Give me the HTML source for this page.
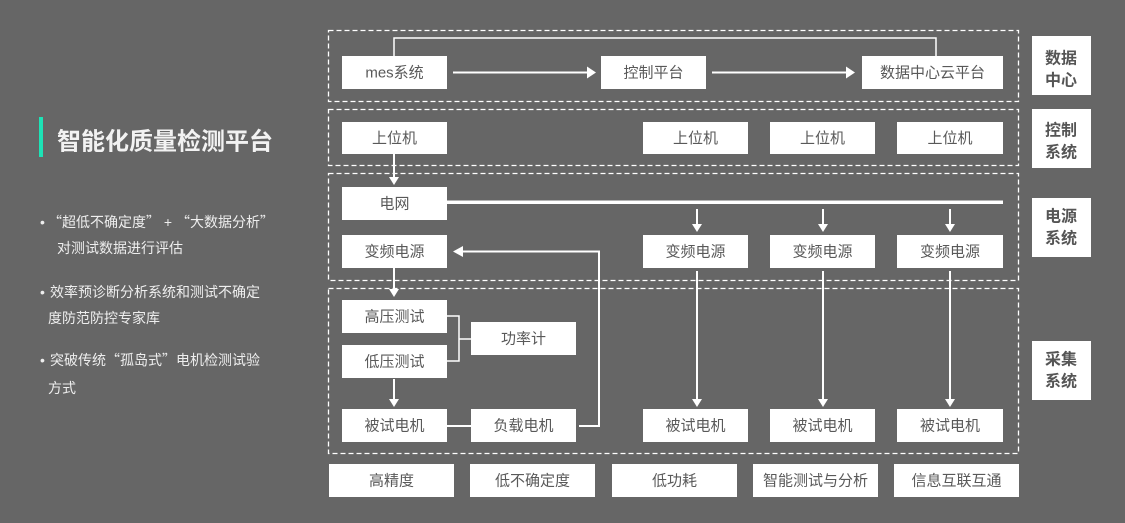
<!DOCTYPE html>
<html>
<head>
<meta charset="utf-8">
<style>
  html,body{margin:0;padding:0;background:#666666;}
  body{width:1125px;height:523px;overflow:hidden;}
  svg{display:block;}
  .t{font-family:"Liberation Sans","Noto Sans CJK SC",sans-serif;}
  .q{font-family:"Noto Sans CJK SC",sans-serif;}
</style>
</head>
<body>
<svg width="1125" height="523" viewBox="0 0 1125 523" xmlns="http://www.w3.org/2000/svg">
  <rect x="0" y="0" width="1125" height="523" fill="#666666"/>

  <!-- Left panel -->
  <rect x="39" y="117" width="4" height="40" fill="#1de3b6"/>
  <text class="t" x="57" y="142" font-size="24" font-weight="bold" fill="#f2f2f2" dominant-baseline="central">智能化质量检测平台</text>

  <g class="t" font-size="14" fill="#eeeeee">
    <text x="40" y="222" dominant-baseline="central">•</text>
    <text x="48" y="222" dominant-baseline="central"><tspan class="q">“</tspan>超低不确定度<tspan class="q">”</tspan> + <tspan class="q">“</tspan>大数据分析<tspan class="q">”</tspan></text>
    <text x="57" y="248" dominant-baseline="central">对测试数据进行评估</text>
    <text x="40" y="292" dominant-baseline="central">•</text>
    <text x="50" y="292" dominant-baseline="central">效率预诊断分析系统和测试不确定</text>
    <text x="48" y="318" dominant-baseline="central">度防范防控专家库</text>
    <text x="40" y="360" dominant-baseline="central">•</text>
    <text x="50" y="360" dominant-baseline="central">突破传统<tspan class="q">“</tspan>孤岛式<tspan class="q">”</tspan>电机检测试验</text>
    <text x="48" y="388" dominant-baseline="central">方式</text>
  </g>

  <!-- Dashed group boxes -->
  <g fill="none" stroke="#ffffff" stroke-width="1.3" stroke-dasharray="5 3">
    <rect x="328.5" y="30.5" width="690" height="71"/>
    <rect x="328.5" y="109.5" width="690" height="56"/>
    <rect x="328.5" y="173.5" width="690" height="107"/>
    <rect x="328.5" y="288.5" width="690" height="165"/>
  </g>

  <!-- Connectors -->
  <g stroke="#ffffff" fill="none">
    <polyline points="394,56 394,38 936,38 936,56" stroke-width="1.5"/>
    <line x1="453" y1="72.5" x2="589" y2="72.5" stroke-width="2"/>
    <line x1="712" y1="72.5" x2="848" y2="72.5" stroke-width="2"/>
    <line x1="394" y1="154" x2="394" y2="178" stroke-width="2"/>
    <line x1="394" y1="268" x2="394" y2="290" stroke-width="2"/>
    <line x1="394" y1="379" x2="394" y2="400" stroke-width="2"/>
    <line x1="697" y1="209" x2="697" y2="225" stroke-width="2"/>
    <line x1="823" y1="209" x2="823" y2="225" stroke-width="2"/>
    <line x1="950" y1="209" x2="950" y2="225" stroke-width="2"/>
    <line x1="697" y1="271" x2="697" y2="400" stroke-width="2"/>
    <line x1="823" y1="271" x2="823" y2="400" stroke-width="2"/>
    <line x1="950" y1="271" x2="950" y2="400" stroke-width="2"/>
    <polyline points="579,426 599,426 599,251.5 461,251.5" stroke-width="2"/>
    <polyline points="447,316 459,316 459,361 447,361" stroke-width="1.5"/>
    <line x1="459" y1="339" x2="471" y2="339" stroke-width="1.5"/>
    <line x1="447" y1="426" x2="471" y2="426" stroke-width="2"/>
  </g>
  <rect x="447" y="200.5" width="556" height="3.5" fill="#ffffff"/>

  <!-- Arrowheads -->
  <g fill="#ffffff">
    <polygon points="587,66.5 596,72.5 587,78.5"/>
    <polygon points="846,66.5 855,72.5 846,78.5"/>
    <polygon points="389,177 399,177 394,185"/>
    <polygon points="389,289 399,289 394,297"/>
    <polygon points="389,399 399,399 394,407"/>
    <polygon points="692,224 702,224 697,232"/>
    <polygon points="818,224 828,224 823,232"/>
    <polygon points="945,224 955,224 950,232"/>
    <polygon points="692,399 702,399 697,407"/>
    <polygon points="818,399 828,399 823,407"/>
    <polygon points="945,399 955,399 950,407"/>
    <polygon points="463,246 453,251.5 463,257"/>
  </g>

  <!-- Node boxes -->
  <g fill="#ffffff">
    <rect x="342" y="56" width="105" height="33"/>
    <rect x="601" y="56" width="105" height="33"/>
    <rect x="862" y="56" width="141" height="33"/>

    <rect x="342" y="122" width="105" height="32"/>
    <rect x="643" y="122" width="105" height="32"/>
    <rect x="770" y="122" width="105" height="32"/>
    <rect x="897" y="122" width="106" height="32"/>

    <rect x="342" y="187" width="105" height="33"/>
    <rect x="342" y="235" width="105" height="33"/>
    <rect x="643" y="235" width="105" height="33"/>
    <rect x="770" y="235" width="105" height="33"/>
    <rect x="897" y="235" width="106" height="33"/>

    <rect x="342" y="300" width="105" height="33"/>
    <rect x="342" y="345" width="105" height="33"/>
    <rect x="471" y="322" width="105" height="33"/>

    <rect x="342" y="409" width="105" height="33"/>
    <rect x="471" y="409" width="105" height="33"/>
    <rect x="643" y="409" width="105" height="33"/>
    <rect x="770" y="409" width="105" height="33"/>
    <rect x="897" y="409" width="106" height="33"/>

    <rect x="329" y="464" width="125" height="33"/>
    <rect x="470" y="464" width="125" height="33"/>
    <rect x="612" y="464" width="125" height="33"/>
    <rect x="753" y="464" width="125" height="33"/>
    <rect x="894" y="464" width="125" height="33"/>

    <rect x="1032" y="36" width="59" height="59"/>
    <rect x="1032" y="109" width="59" height="59"/>
    <rect x="1032" y="198" width="59" height="59"/>
    <rect x="1032" y="341" width="59" height="59"/>
  </g>

  <!-- Node labels -->
  <g class="t" font-size="15" fill="#595959" text-anchor="middle" dominant-baseline="central">
    <text x="394.5" y="73">mes系统</text>
    <text x="653.5" y="73">控制平台</text>
    <text x="932.5" y="73">数据中心云平台</text>

    <text x="394.5" y="138.5">上位机</text>
    <text x="695.5" y="138.5">上位机</text>
    <text x="822.5" y="138.5">上位机</text>
    <text x="950" y="138.5">上位机</text>

    <text x="394.5" y="204">电网</text>
    <text x="394.5" y="252">变频电源</text>
    <text x="695.5" y="252">变频电源</text>
    <text x="822.5" y="252">变频电源</text>
    <text x="950" y="252">变频电源</text>

    <text x="394.5" y="317">高压测试</text>
    <text x="394.5" y="362">低压测试</text>
    <text x="523.5" y="339">功率计</text>

    <text x="394.5" y="426">被试电机</text>
    <text x="523.5" y="426">负载电机</text>
    <text x="695.5" y="426">被试电机</text>
    <text x="822.5" y="426">被试电机</text>
    <text x="950" y="426">被试电机</text>

    <text x="391.5" y="481">高精度</text>
    <text x="532.5" y="481">低不确定度</text>
    <text x="674.5" y="481">低功耗</text>
    <text x="815.5" y="481">智能测试与分析</text>
    <text x="956.5" y="481">信息互联互通</text>
  </g>

  <g class="t" font-size="16" font-weight="bold" fill="#555555" text-anchor="middle" dominant-baseline="central">
    <text x="1061" y="59">数据</text>
    <text x="1061" y="81">中心</text>
    <text x="1061" y="131">控制</text>
    <text x="1061" y="153">系统</text>
    <text x="1061" y="217">电源</text>
    <text x="1061" y="239">系统</text>
    <text x="1061" y="360">采集</text>
    <text x="1061" y="382">系统</text>
  </g>
</svg>
</body>
</html>
